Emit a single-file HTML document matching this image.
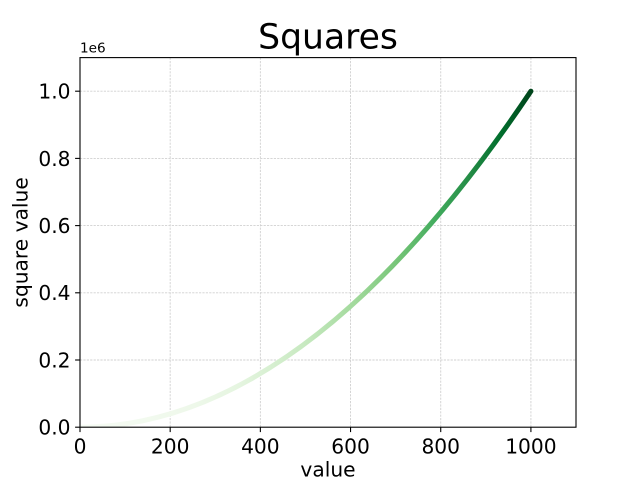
<!DOCTYPE html>
<html>
<head>
<meta charset="utf-8">
<style>
  html, body { margin: 0; padding: 0; background: #ffffff; }
  svg { display: block; }
  text { font-family: "DejaVu Sans", "Liberation Sans", sans-serif; fill: #000; }
</style>
</head>
<body>
<svg width="640" height="480" viewBox="0 0 640 480" xmlns="http://www.w3.org/2000/svg">
  <defs>
    <linearGradient id="g" gradientUnits="userSpaceOnUse" x1="80" y1="0" x2="530.91" y2="0">
      <stop offset="0" stop-color="#f7fcf5"/>
      <stop offset="0.25" stop-color="#eef8ea"/>
      <stop offset="0.3536" stop-color="#e5f5e0"/>
      <stop offset="0.5" stop-color="#c7e9c0"/>
      <stop offset="0.6124" stop-color="#a1d99b"/>
      <stop offset="0.7071" stop-color="#74c476"/>
      <stop offset="0.7906" stop-color="#41ab5d"/>
      <stop offset="0.8660" stop-color="#238b45"/>
      <stop offset="0.9354" stop-color="#006d2c"/>
      <stop offset="1" stop-color="#00441b"/>
    </linearGradient>
    <clipPath id="ax">
      <rect x="80" y="57.6" width="496" height="369.6"/>
    </clipPath>
  </defs>

  <rect x="0" y="0" width="640" height="480" fill="#ffffff"/>

  <!-- grid -->
  <g stroke="#d0d0d0" stroke-width="0.9" stroke-dasharray="2.2,1.2" fill="none">
    <line x1="80" y1="57.6" x2="80" y2="427.2"/>
    <line x1="170.18" y1="57.6" x2="170.18" y2="427.2"/>
    <line x1="260.36" y1="57.6" x2="260.36" y2="427.2"/>
    <line x1="350.55" y1="57.6" x2="350.55" y2="427.2"/>
    <line x1="440.73" y1="57.6" x2="440.73" y2="427.2"/>
    <line x1="530.91" y1="57.6" x2="530.91" y2="427.2"/>
    <line x1="80" y1="360" x2="576" y2="360"/>
    <line x1="80" y1="292.8" x2="576" y2="292.8"/>
    <line x1="80" y1="225.6" x2="576" y2="225.6"/>
    <line x1="80" y1="158.4" x2="576" y2="158.4"/>
    <line x1="80" y1="91.2" x2="576" y2="91.2"/>
  </g>

  <!-- curve -->
  <g clip-path="url(#ax)">
    <path d="M80.45,427.2 Q305.45,427.2 530.91,91.2" fill="none" stroke="url(#g)" stroke-width="5" stroke-linecap="round"/>
  </g>

  <!-- spines -->
  <rect x="80" y="57.6" width="496" height="369.6" fill="none" stroke="#000" stroke-width="1.1"/>

  <!-- ticks -->
  <g stroke="#000" stroke-width="1.1">
    <line x1="80" y1="427.2" x2="80" y2="432.1"/>
    <line x1="170.18" y1="427.2" x2="170.18" y2="432.1"/>
    <line x1="260.36" y1="427.2" x2="260.36" y2="432.1"/>
    <line x1="350.55" y1="427.2" x2="350.55" y2="432.1"/>
    <line x1="440.73" y1="427.2" x2="440.73" y2="432.1"/>
    <line x1="530.91" y1="427.2" x2="530.91" y2="432.1"/>
    <line x1="75.1" y1="427.2" x2="80" y2="427.2"/>
    <line x1="75.1" y1="360" x2="80" y2="360"/>
    <line x1="75.1" y1="292.8" x2="80" y2="292.8"/>
    <line x1="75.1" y1="225.6" x2="80" y2="225.6"/>
    <line x1="75.1" y1="158.4" x2="80" y2="158.4"/>
    <line x1="75.1" y1="91.2" x2="80" y2="91.2"/>
  </g>

  <!-- x tick labels -->
  <g font-size="20.2" text-anchor="middle">
    <text x="80" y="453.6">0</text>
    <text x="170.18" y="453.6">200</text>
    <text x="260.36" y="453.6">400</text>
    <text x="350.55" y="453.6">600</text>
    <text x="440.73" y="453.6">800</text>
    <text x="530.91" y="453.6">1000</text>
  </g>

  <!-- y tick labels -->
  <g font-size="20.2" text-anchor="end">
    <text x="70.5" y="434.6">0.0</text>
    <text x="70.5" y="367.4">0.2</text>
    <text x="70.5" y="300.2">0.4</text>
    <text x="70.5" y="233">0.6</text>
    <text x="70.5" y="165.8">0.8</text>
    <text x="70.5" y="98.6">1.0</text>
  </g>

  <!-- offset text -->
  <text x="80" y="52.5" font-size="13.6">1e6</text>

  <!-- title -->
  <text x="328" y="48.5" font-size="34.6" text-anchor="middle">Squares</text>

  <!-- axis labels -->
  <text x="328" y="476.5" font-size="20.2" text-anchor="middle">value</text>
  <text transform="translate(27.5,242.4) rotate(-90)" font-size="20.2" text-anchor="middle">square value</text>
</svg>
</body>
</html>
